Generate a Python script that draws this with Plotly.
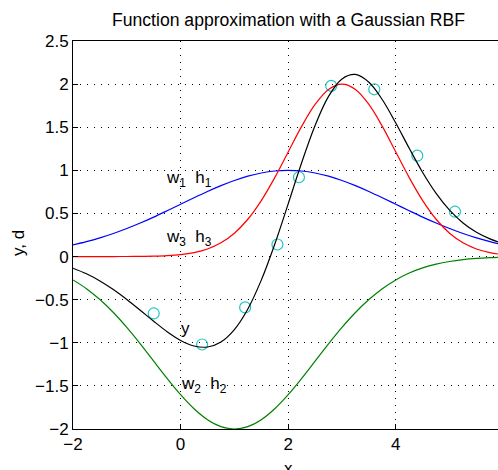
import plotly.graph_objects as go

# sample positions along x
x_curve = [-2, -1.75, -1.5, -1.25, -1, -0.75, -0.5, -0.25, 0, 0.25, 0.5, 0.75, 1, 1.25, 1.5, 1.75,
           2, 2.25, 2.5, 2.75, 3, 3.25, 3.5, 3.75, 4, 4.25, 4.5, 4.75, 5, 5.25, 5.5, 5.75, 5.9]

# w1 h1 (blue)
w1h1 = [0.1353, 0.1724, 0.2163, 0.2671, 0.3247, 0.3886, 0.4578, 0.5311, 0.6065, 0.6819, 0.7548,
        0.8226, 0.8825, 0.9321, 0.9692, 0.9922, 1.0, 0.9922, 0.9692, 0.9321, 0.8825, 0.8226,
        0.7548, 0.6819, 0.6065, 0.5311, 0.4578, 0.3886, 0.3247, 0.2671, 0.2163, 0.1724, 0.1494]

# w2 h2 (green)
w2h2 = [-0.2707, -0.3726, -0.4988, -0.6493, -0.8223, -1.0126, -1.2131, -1.4131, -1.6015, -1.7650,
        -1.8919, -1.9724, -2.0, -1.9724, -1.8919, -1.7650, -1.6015, -1.4131, -1.2131, -1.0126,
        -0.8223, -0.6493, -0.4988, -0.3726, -0.2707, -0.1911, -0.1315, -0.0879, -0.0571, -0.0361,
        -0.0222, -0.0133, -0.0096]

# w3 h3 (red)
w3h3 = [0.0, 0.0000, 0.0001, 0.0002, 0.0007, 0.0018, 0.0044, 0.0102, 0.0222, 0.0456, 0.0879,
        0.1591, 0.2707, 0.4327, 0.6493, 0.9157, 1.2131, 1.5096, 1.7650, 1.9385, 2.0, 1.9385,
        1.7650, 1.5096, 1.2131, 0.9157, 0.6493, 0.4327, 0.2707, 0.1591, 0.0879, 0.0456, 0.0298]

# y (black)
y_out = [-0.1354, -0.2002, -0.2824, -0.3820, -0.4969, -0.6222, -0.7509, -0.8718, -0.9728, -1.0375,
         -1.0492, -0.9907, -0.8468, -0.6076, -0.2734, 0.1429, 0.6116, 1.0887, 1.5211, 1.8580,
         2.0602, 2.1118, 2.0210, 1.8189, 1.5489, 1.2557, 0.9756, 0.7334, 0.5383, 0.3901, 0.2820,
         0.2047, 0.1696]

# data points d (cyan circles)
x_data = [-0.5, 0.4, 1.2, 1.8, 2.2, 2.8, 3.6, 4.4, 5.1]
d_data = [-0.66, -1.02, -0.59, 0.14, 0.92, 1.98, 1.94, 1.17, 0.52]

x_ticks = [-2, 0, 2, 4]
y_ticks = [-2, -1.5, -1, -0.5, 0, 0.5, 1, 1.5, 2, 2.5]
y_tick_text = ["\u22122", "\u22121.5", "\u22121", "\u22120.5", "0", "0.5", "1", "1.5", "2", "2.5"]
x_tick_text = ["\u22122", "0", "2", "4"]

FONT = "Liberation Sans, Arial, sans-serif"

fig = go.Figure()
fig.add_trace(go.Scatter(x=x_data, y=d_data, mode="markers",
                         marker=dict(symbol="circle-open", size=11, color="#22c4c4",
                                     line=dict(width=1.2, color="#22c4c4")),
                         showlegend=False))
fig.add_trace(go.Scatter(x=x_curve, y=w1h1, mode="lines", line=dict(color="#0000ff", width=1.2, shape="spline"), showlegend=False))
fig.add_trace(go.Scatter(x=x_curve, y=w3h3, mode="lines", line=dict(color="#ff0000", width=1.2, shape="spline"), showlegend=False))
fig.add_trace(go.Scatter(x=x_curve, y=w2h2, mode="lines", line=dict(color="#008000", width=1.2, shape="spline"), showlegend=False))
fig.add_trace(go.Scatter(x=x_curve, y=y_out, mode="lines", line=dict(color="#000000", width=1.2, shape="spline"), showlegend=False))

labels = [
    (-0.3, 0.90, "w<sub>1</sub>  h<sub>1</sub>"),
    (-0.3, 0.22, "w<sub>3</sub>  h<sub>3</sub>"),
    (-0.03, -0.83, "y"),
    (-0.03, -1.49, "w<sub>2</sub>  h<sub>2</sub>"),
]
for lx, ly, txt in labels:
    fig.add_annotation(x=lx, y=ly, text=txt, showarrow=False, xanchor="left", yanchor="middle",
                       font=dict(family=FONT, size=17, color="black"))

fig.add_annotation(text="Function approximation with a Gaussian RBF", xref="paper", yref="paper",
                   x=(288 - 73) / 425, y=1, yshift=9, xanchor="center", yanchor="bottom", showarrow=False,
                   font=dict(family=FONT, size=17.6, color="black"))
fig.add_annotation(text="x", xref="paper", yref="paper", x=(288 - 73) / 425, y=0, yshift=-28,
                   xanchor="center", yanchor="top", showarrow=False,
                   font=dict(family=FONT, size=17, color="black"))
fig.add_annotation(text="y, d", xref="paper", yref="paper", x=0, xshift=-54, y=(429 - 243) / 388,
                   xanchor="center", yanchor="middle", textangle=-90, showarrow=False,
                   font=dict(family=FONT, size=17, color="black"))

fig.update_layout(
    width=498, height=470,
    margin=dict(l=73, r=0, t=41, b=41),
    paper_bgcolor="white", plot_bgcolor="white",
    font=dict(family=FONT, size=17, color="black"),
)
fig.update_xaxes(range=[-2, 5.9], tickvals=x_ticks, ticktext=x_tick_text,
                 showline=True, linecolor="black", linewidth=1, mirror=True,
                 ticks="inside", ticklen=5, tickcolor="black",
                 showgrid=True, gridcolor="black", gridwidth=1, griddash="1px,6px",
                 zeroline=False)
fig.update_yaxes(range=[-2, 2.5], tickvals=y_ticks, ticktext=y_tick_text,
                 showline=True, linecolor="black", linewidth=1, mirror=False,
                 ticks="inside", ticklen=5, tickcolor="black",
                 showgrid=True, gridcolor="black", gridwidth=1, griddash="1px,6px",
                 zeroline=False)

fig.write_html("out.html", config={"displayModeBar": False},
               post_script="document.body.style.margin='0';document.body.style.overflow='hidden';")
